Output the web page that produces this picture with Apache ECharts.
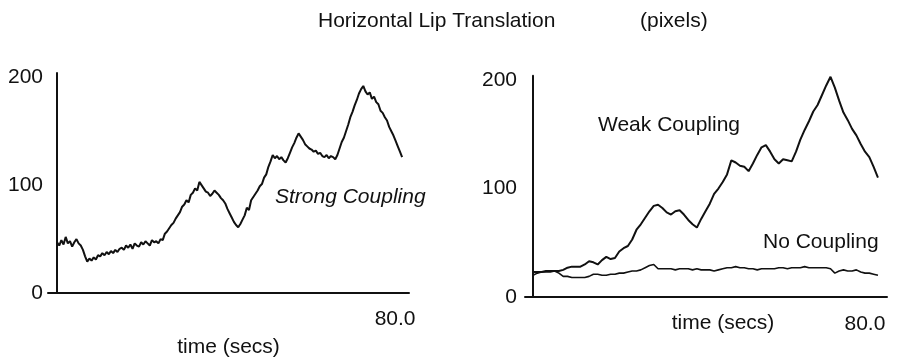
<!DOCTYPE html>
<html>
<head>
<meta charset="utf-8">
<script src="https://cdn.jsdelivr.net/npm/echarts@6/dist/echarts.min.js"></script>
<style>
  html, body { margin: 0; padding: 0; background: #fff; }
  #chart { width: 898px; height: 357px; }
</style>
</head>
<body>
<div id="chart"></div>
<script>
// 左图：强耦合，每 0.5 秒一个采样点 (0 ~ 80 s)
const strongStep = 0.5
const strongCoupling = [
  47, 44, 49, 45, 52, 46, 48, 43, 47, 50,
  46, 44, 40, 34, 29, 32, 30, 33, 31, 35,
  34, 37, 35, 38, 36, 39, 37, 40, 38, 41,
  42, 40, 44, 42, 45, 41, 46, 44, 43, 47,
  45, 48, 46, 44, 49, 47, 48, 46, 50, 49,
  55, 57, 60, 63, 65, 69, 72, 75, 80, 82,
  86, 84, 91, 93, 97, 95, 103, 100, 97, 94,
  93, 90, 92, 95, 93, 91, 88, 86, 83, 78,
  74, 70, 66, 63, 61, 64, 68, 72, 79, 77,
  86, 89, 92, 95, 99, 101, 107, 110, 117, 122,
  128, 125, 127, 124, 126, 123, 121, 125, 130, 135,
  139, 144, 148, 145, 142, 138, 136, 134, 133, 131,
  132, 129, 130, 127, 126, 128, 125, 127, 126, 124,
  128, 134, 140, 144, 150, 156, 163, 168, 174, 179,
  185, 189, 192, 187, 184, 186, 180, 182, 177, 175,
  169, 167, 163, 160, 154, 150, 146, 141, 136, 131,
  126
]

// 右图：弱耦合 / 无耦合，每 1 秒一个采样点
const rightStep = 1
const weakCoupling = [
  23, 23, 23, 24, 24, 24, 24, 25, 27, 28,
  28, 28, 30, 33, 32, 30, 34, 37, 35, 36,
  42, 45, 47, 53, 62, 67, 73, 79, 84, 85,
  82, 78, 76, 79, 80, 76, 71, 67, 64, 72,
  79, 86, 95, 100, 106, 113, 126, 124, 121, 120,
  116, 123, 131, 138, 140, 134, 127, 123, 127, 126,
  125, 134, 145, 154, 162, 171, 177, 186, 195, 203,
  193, 181, 170, 163, 155, 149, 141, 134, 129, 120,
  110
]
const noCoupling = [
  20, 22, 23, 23, 23, 24, 22, 19, 19, 18,
  18, 18, 18, 19, 21, 21, 20, 20, 21, 21,
  22, 22, 23, 24, 24, 25, 27, 29, 30, 26,
  26, 26, 26, 25, 26, 26, 26, 25, 26, 25,
  25, 25, 24, 25, 26, 27, 27, 28, 27, 27,
  26, 26, 25, 26, 26, 26, 26, 27, 27, 26,
  27, 27, 27, 28, 27, 27, 27, 27, 27, 26,
  22, 24, 25, 24, 24, 25, 23, 22, 22, 21,
  20
]

const yTicks = [0, 100, 200]
const xTicks = [80]
const xName = 'time (secs)'
const titleText = 'Horizontal Lip Translation'
const unitText = '(pixels)'

const font = '"Liberation Sans", Arial, Helvetica, sans-serif'
const ink = '#111'
const fs = 21

function pairs(arr, step) {
  return arr.map((v, i) => [i * step, v])
}

function xAxisOpt(gridIndex, min, max, labelPad, labelMargin, nameGap, namePad) {
  return {
    type: 'value',
    gridIndex,
    min,
    max,
    axisLine: { onZero: true, lineStyle: { color: ink, width: 2 } },
    axisTick: { show: false },
    splitLine: { show: false },
    axisLabel: {
      customValues: xTicks,
      formatter: v => v.toFixed(1),
      color: ink,
      fontFamily: font,
      fontSize: fs,
      margin: labelMargin,
      padding: labelPad
    },
    name: xName,
    nameLocation: 'middle',
    nameGap,
    nameMoveOverlap: false,
    nameTextStyle: { color: ink, fontFamily: font, fontSize: fs, padding: namePad }
  }
}

// 标签跟随 grid 左边缘，不跟随 onZero 的轴线
function yAxisOpt(gridIndex, margin) {
  return {
    type: 'value',
    gridIndex,
    min: 0,
    max: 204,
    axisLine: { show: true, onZero: true, lineStyle: { color: ink, width: 2 } },
    axisTick: { show: false },
    splitLine: { show: false },
    axisLabel: {
      customValues: yTicks,
      color: ink,
      fontFamily: font,
      fontSize: fs,
      margin
    }
  }
}

function lineSeries(idx, data, width) {
  return {
    type: 'line',
    xAxisIndex: idx,
    yAxisIndex: idx,
    data,
    showSymbol: false,
    symbol: 'none',
    animation: false,
    lineStyle: { color: ink, width }
  }
}

const chart = echarts.init(document.getElementById('chart'))
chart.setOption({
  backgroundColor: '#fff',
  animation: false,
  title: [
    {
      text: titleText,
      left: 318,
      top: 11,
      padding: 0,
      textStyle: { color: ink, fontFamily: font, fontSize: fs, fontWeight: 'normal' }
    },
    {
      text: unitText,
      left: 640,
      top: 11,
      padding: 0,
      textStyle: { color: ink, fontFamily: font, fontSize: fs, fontWeight: 'normal' }
    }
  ],
  // 固定位置，不让 v6 自动收缩 grid
  grid: [
    { left: 48, top: 73, width: 361, height: 220, outerBoundsMode: 'none', containLabel: false },
    { left: 525, top: 75.7, width: 362, height: 221.3, outerBoundsMode: 'none', containLabel: false }
  ],
  xAxis: [
    xAxisOpt(0, -2.1, 81.6, [0, 14, 0, 0], 16, 44, [0, 0, 0, 0]),
    xAxisOpt(1, -1.86, 82.1, [0, 26, 0, 0], 17, 16, [0, 0, 0, 34])
  ],
  yAxis: [yAxisOpt(0, 5), yAxisOpt(1, 8)],
  series: [
    lineSeries(0, pairs(strongCoupling, strongStep), 2),
    lineSeries(1, pairs(weakCoupling, rightStep), 2),
    lineSeries(1, pairs(noCoupling, rightStep), 1.6)
  ],
  graphic: [
    {
      type: 'text',
      x: 275,
      y: 197,
      style: {
        text: 'Strong Coupling',
        fill: ink,
        font: 'italic ' + fs + 'px ' + font,
        verticalAlign: 'middle'
      }
    },
    {
      type: 'text',
      x: 598,
      y: 125,
      style: {
        text: 'Weak Coupling',
        fill: ink,
        font: fs + 'px ' + font,
        verticalAlign: 'middle'
      }
    },
    {
      type: 'text',
      x: 763,
      y: 242,
      style: {
        text: 'No Coupling',
        fill: ink,
        font: fs + 'px ' + font,
        verticalAlign: 'middle'
      }
    }
  ]
})
</script>
</body>
</html>
